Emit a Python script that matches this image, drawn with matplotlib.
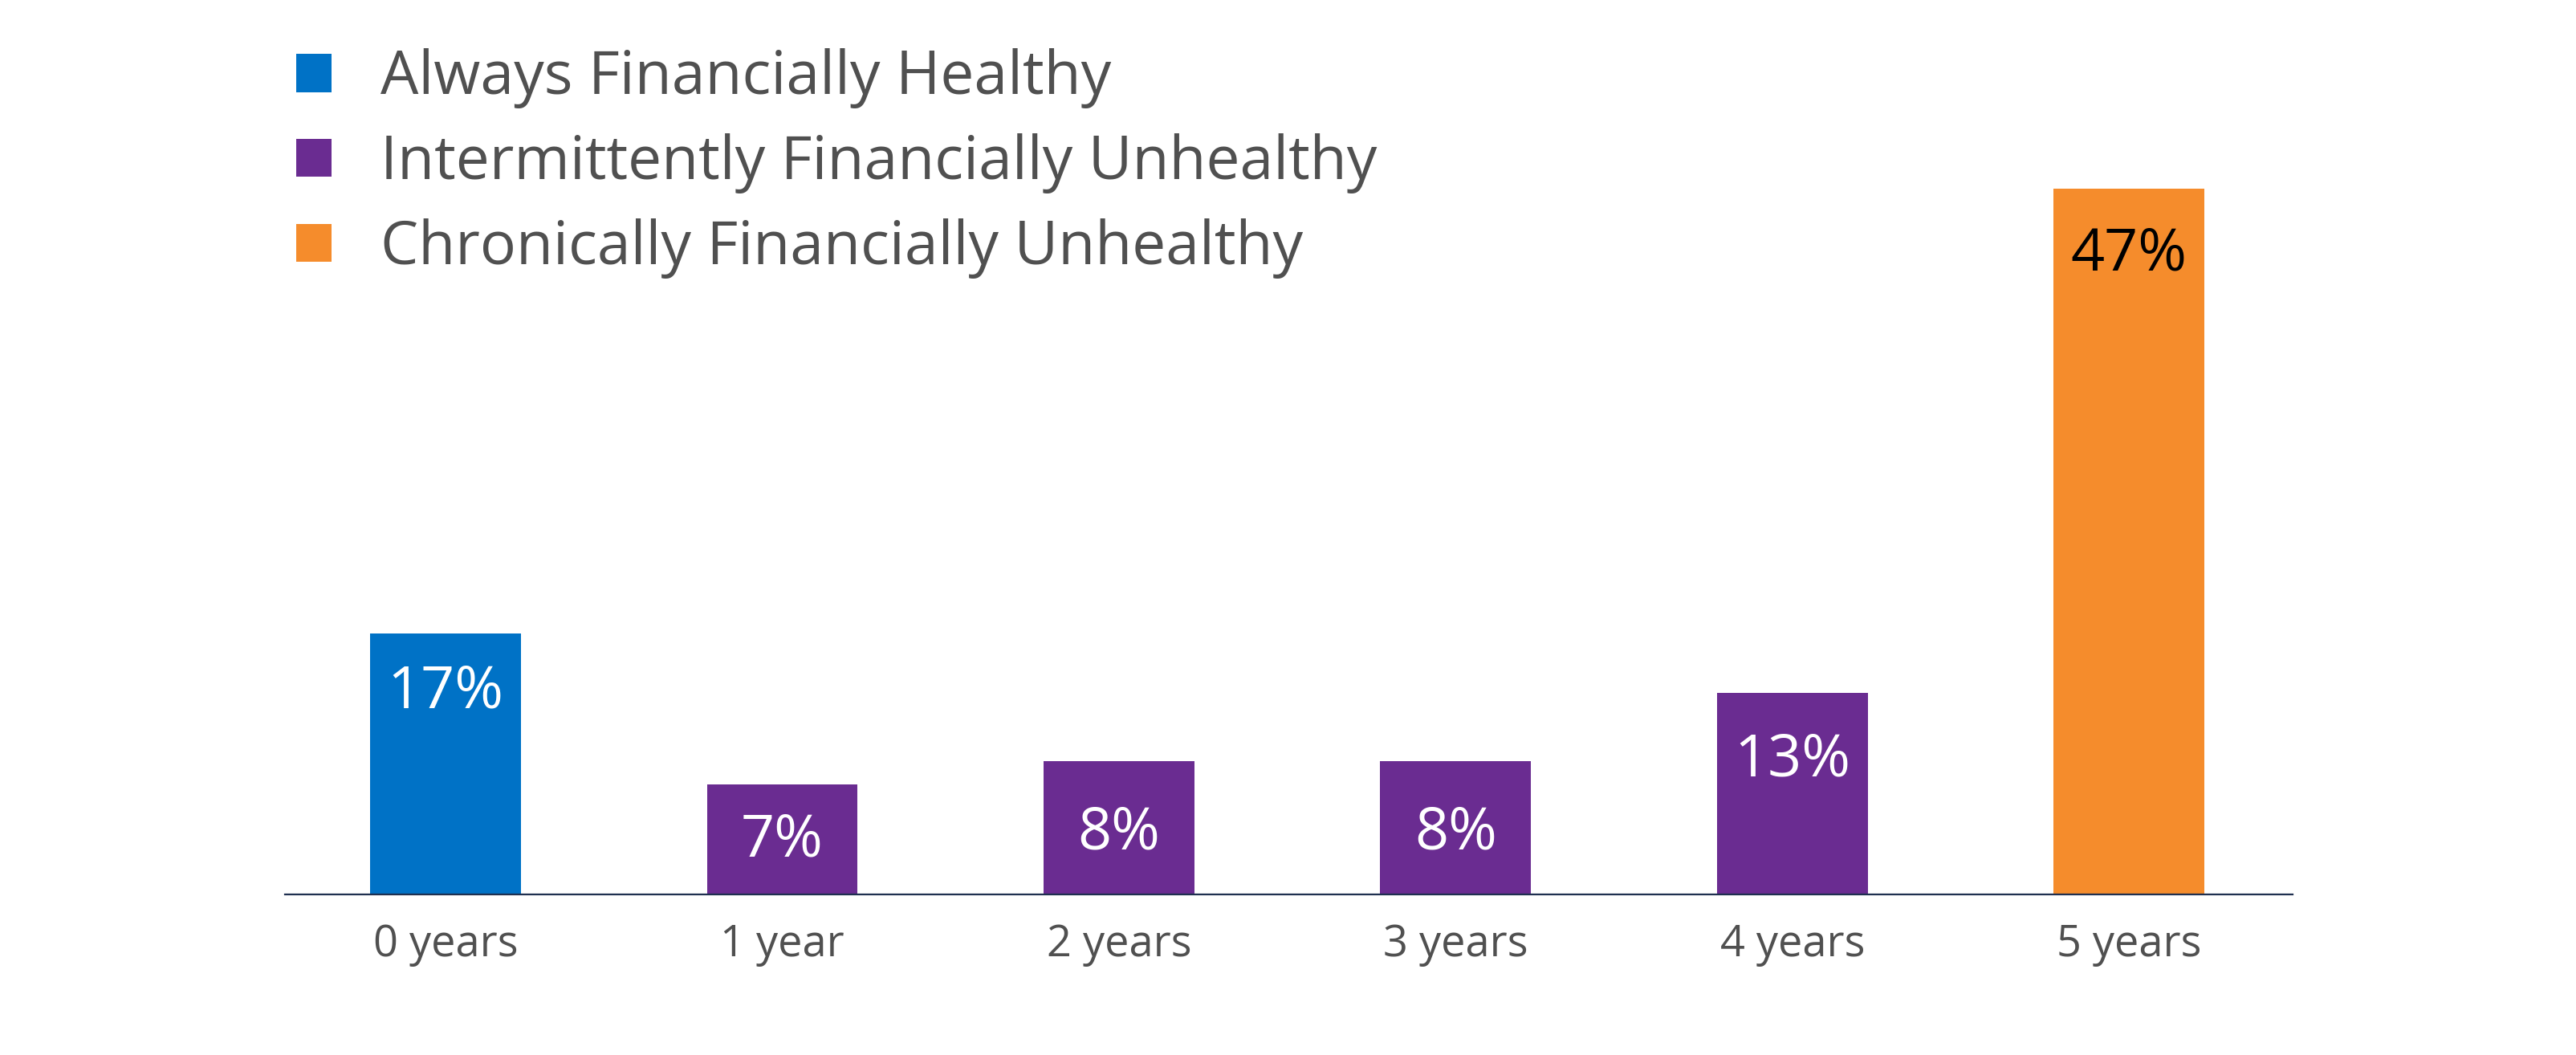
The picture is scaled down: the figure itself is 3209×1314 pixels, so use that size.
import matplotlib

matplotlib.use("Agg")
import matplotlib.pyplot as plt
from matplotlib.patches import Patch

plt.rcParams["font.family"] = ["Open Sans", "DejaVu Sans"]

# data
categories = ["0 years", "1 year", "2 years", "3 years", "4 years", "5 years"]
values = [17.4, 7.3, 8.9, 8.9, 13.4, 47.0]
value_labels = ["17%", "7%", "8%", "8%", "13%", "47%"]
groups = ["Always Financially Healthy", "Intermittently Financially Unhealthy",
          "Chronically Financially Unhealthy"]
bar_group = [0, 1, 1, 1, 1, 2]

group_colors = ["#0072C6", "#6A2C91", "#F58C2C"]
label_colors = ["white", "white", "black"]
# baseline of each value label, in points below the bar top
label_drop = [67, 64, 79, 79, 74, 73]

fig = plt.figure(figsize=(32.09, 13.14), dpi=100)
ax = fig.add_axes([0.1106, 0.1522, 0.7794, 0.7978])

x = list(range(len(categories)))
colors = [group_colors[g] for g in bar_group]
bars = ax.bar(x, values, width=0.4475, color=colors, zorder=2)

for rect, lab, g, d in zip(bars, value_labels, bar_group, label_drop):
    ax.annotate(lab, (rect.get_x() + rect.get_width() / 2, rect.get_height()),
                xytext=(0, -d), textcoords="offset points",
                ha="center", va="baseline", fontsize=53,
                color=label_colors[g])

ax.set_xlim(-0.477, 5.486)
ax.set_ylim(0, 56.05)
ax.set_xticks(x)
ax.set_xticklabels(categories, fontsize=39, color="#505050")
ax.tick_params(axis="x", length=0, pad=25.5)
ax.set_yticks([])
for side in ["top", "right", "left"]:
    ax.spines[side].set_visible(False)
ax.spines["bottom"].set_color("#1F3050")
ax.spines["bottom"].set_linewidth(1.6)

handles = [Patch(facecolor=c, edgecolor="none") for c in group_colors]
leg = fig.legend(handles, groups, loc="upper left",
                 bbox_to_anchor=(0.1150, 0.954), frameon=False,
                 fontsize=54, handlelength=0.59, handleheight=0.59,
                 handletextpad=0.81, labelspacing=0.41, borderpad=0,
                 borderaxespad=0)
for t in leg.get_texts():
    t.set_color("#505050")

fig.savefig("out.png", dpi=100)
